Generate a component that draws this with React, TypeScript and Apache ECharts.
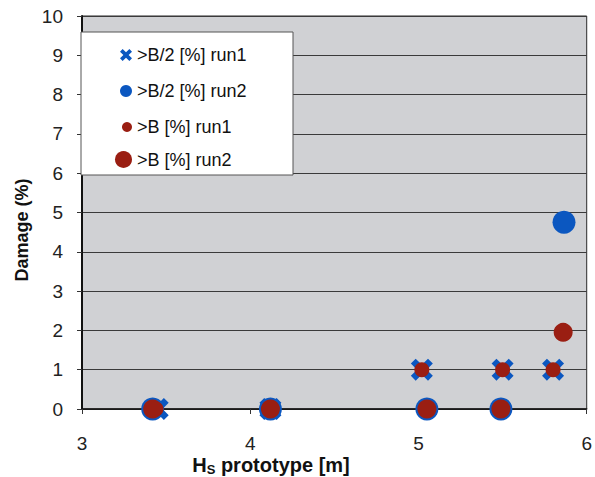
import React, { useEffect, useRef } from "react";
import * as echarts from "echarts";

// ---- data ----
const b2Run1X = [3.45, 4.12, 5.02, 5.5, 5.8];
const b2Run1Y = [0, 0, 1, 1, 1];
const b2Run2X = [3.42, 4.12, 5.05, 5.49, 5.865];
const b2Run2Y = [0, 0, 0, 0, 4.75];
const bRun1X = [3.44, 4.12, 5.02, 5.5, 5.8];
const bRun1Y = [0, 0, 1, 1, 1];
const bRun2X = [3.42, 4.12, 5.05, 5.49, 5.86];
const bRun2Y = [0, 0, 0, 0, 1.95];
const seriesNames = [">B/2 [%] run1", ">B/2 [%] run2", ">B [%] run1", ">B [%] run2"];
const xTitle = "prototype [m]";
const yTitle = "Damage (%)";

const BLUE = "#0b57c0";
const RED = "#9a1e12";
const FONT = "Arial, 'Liberation Sans', Helvetica, sans-serif";
const CROSS =
  "path://M0,2.2 L2.2,0 L5,2.8 L7.8,0 L10,2.2 L7.2,5 L10,7.8 L7.8,10 L5,7.2 L2.2,10 L0,7.8 L2.8,5 Z";

const zip = (xs: number[], ys: number[]) => xs.map((x, i) => [x, ys[i]]);

export default function App() {
  const ref = useRef<HTMLDivElement>(null);
  useEffect(() => {
    if (!ref.current) return;
    const chart = echarts.init(ref.current, null, { renderer: "svg" });
    const legendSpec = [
      { name: seriesNames[0], size: 12, cy: 52 },
      { name: seriesNames[1], size: 12, cy: 88 },
      { name: seriesNames[2], size: 10, cy: 123 },
      { name: seriesNames[3], size: 17, cy: 159 },
    ];
    chart.setOption({
      animation: false,
      backgroundColor: "#ffffff",
      grid: {
        left: 82,
        right: 2,
        top: 16,
        bottom: 68,
        show: true,
        backgroundColor: "#d0d1d4",
        borderColor: "#2a2a2a",
        borderWidth: 1,
      },
      xAxis: {
        type: "value",
        min: 3,
        max: 6,
        interval: 1,
        axisLine: { show: true, onZero: false, lineStyle: { color: "#111", width: 1.5 } },
        axisTick: { show: true, length: 5, lineStyle: { color: "#333" } },
        axisLabel: { fontSize: 19, color: "#222", margin: 25, fontFamily: FONT },
        splitLine: { show: false },
      },
      yAxis: {
        type: "value",
        min: 0,
        max: 10,
        interval: 1,
        axisLine: { show: true, lineStyle: { color: "#111", width: 2 } },
        axisTick: { show: true, length: 5, lineStyle: { color: "#333" } },
        axisLabel: { fontSize: 19, color: "#222", margin: 19, fontFamily: FONT },
        splitLine: { show: true, lineStyle: { color: "#3a3a3a", width: 1 } },
      },
      legend: legendSpec.map((l) => ({
        data: [l.name],
        orient: "vertical",
        left: 132 - l.size,
        top: l.cy - l.size / 2,
        itemWidth: l.size,
        itemHeight: l.size,
        padding: 0,
        selectedMode: false,
        z: 100,
        textStyle: { fontSize: 18, color: "#111", fontFamily: FONT },
      })),
      graphic: [
        {
          type: "rect",
          z: 50,
          shape: { x: 81, y: 32, width: 212, height: 143 },
          style: { fill: "#ffffff", stroke: "#555", lineWidth: 1 },
        },
        {
          type: "text",
          z: 50,
          x: 22,
          y: 230,
          rotation: Math.PI / 2,
          style: {
            text: yTitle,
            fontSize: 18,
            fontWeight: "bold",
            fontFamily: FONT,
            fill: "#111",
            align: "center",
            verticalAlign: "middle",
          },
        },
        {
          type: "text",
          z: 50,
          x: 271,
          y: 465,
          style: {
            text: "{h|H}{s|S}{h| " + xTitle + "}",
            fontFamily: FONT,
            fill: "#111",
            align: "center",
            verticalAlign: "middle",
            rich: {
              h: { fontSize: 20, fontWeight: "bold", fontFamily: FONT, fill: "#111", lineHeight: 20 },
              s: {
                fontSize: 13,
                fontWeight: "bold",
                fontFamily: FONT,
                fill: "#111",
                lineHeight: 20,
                padding: [8, 0, 0, 0],
              },
            },
          },
        },
      ],
      series: [
        {
          name: seriesNames[0],
          type: "scatter",
          symbol: CROSS,
          symbolSize: 22,
          itemStyle: { color: BLUE, opacity: 1 },
          data: zip(b2Run1X, b2Run1Y),
        },
        {
          name: seriesNames[1],
          type: "scatter",
          symbol: "circle",
          symbolSize: 23,
          itemStyle: { color: BLUE, opacity: 1 },
          data: zip(b2Run2X, b2Run2Y),
        },
        {
          name: seriesNames[2],
          type: "scatter",
          symbol: "circle",
          symbolSize: 15,
          itemStyle: { color: RED, opacity: 1 },
          data: zip(bRun1X, bRun1Y),
        },
        {
          name: seriesNames[3],
          type: "scatter",
          symbol: "circle",
          symbolSize: 19,
          itemStyle: { color: RED, opacity: 1 },
          data: zip(bRun2X, bRun2Y),
        },
      ],
    });
    return () => chart.dispose();
  }, []);
  return (
    <div
      ref={ref}
      style={{ position: "fixed", left: 0, top: 0, width: 595, height: 477 }}
    />
  );
}
